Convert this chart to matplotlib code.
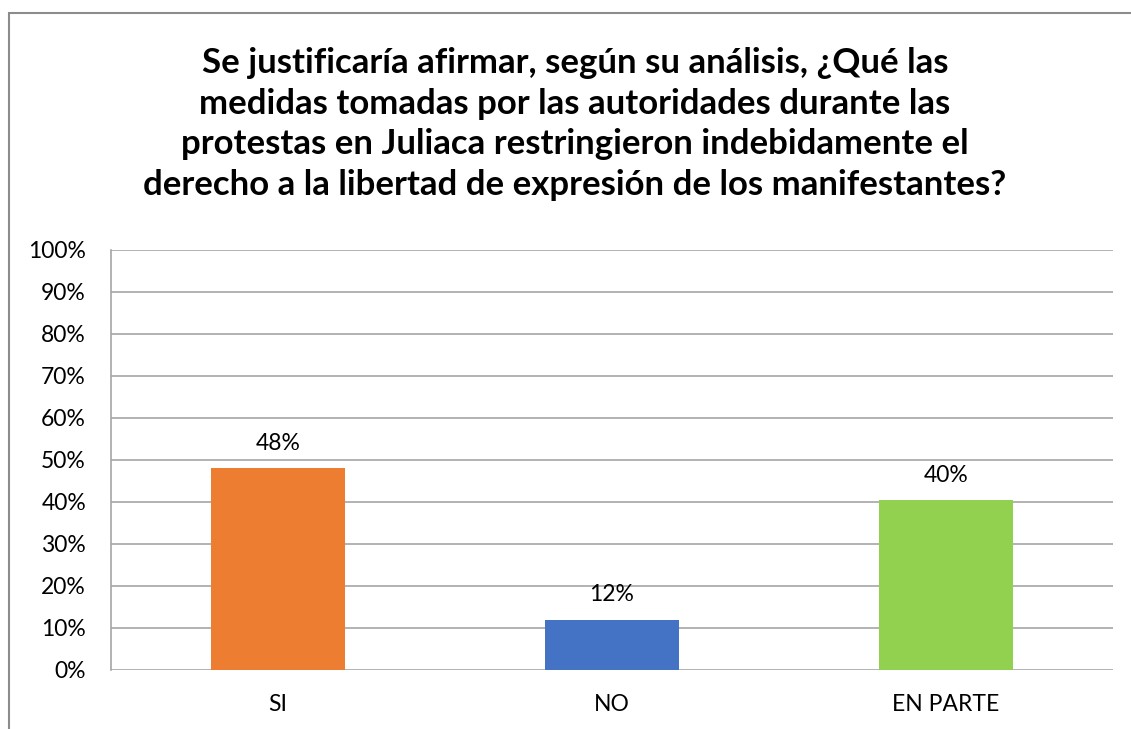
import matplotlib.pyplot as plt
from matplotlib.patches import Rectangle
from matplotlib.ticker import PercentFormatter

# Datos de la encuesta
categorias = ['SI', 'NO', 'EN PARTE']
valores = [0.48, 0.12, 0.404]
colores = ['#ED7D31', '#4472C4', '#92D050']
titulo = ('Se justificaría afirmar, según su análisis, ¿Qué las\n'
          'medidas tomadas por las autoridades durante las\n'
          'protestas en Juliaca restringieron indebidamente el\n'
          'derecho a la libertad de expresión de los manifestantes?')

plt.rcParams['font.family'] = ['Lato', 'DejaVu Sans']

fig = plt.figure(figsize=(11.31, 7.29), dpi=100)
W, H = 1131, 729
ax = fig.add_axes([111 / W, 1 - 670 / H, (1113 - 111) / W, (670 - 249.5) / H])

x = range(len(categorias))
barras = ax.bar(x, valores, width=0.4, color=colores, zorder=3)
for b, v in zip(barras, valores):
    ax.text(b.get_x() + b.get_width() / 2, v + 0.034, f'{round(v * 100):.0f}%',
            ha='center', va='bottom', fontsize=16.5, color='#000000')

ax.set_xlim(-0.5, 2.5)
ax.set_ylim(0, 1)
ax.set_yticks([i / 10 for i in range(11)])
ax.yaxis.set_major_formatter(PercentFormatter(1.0, decimals=0))
ax.set_xticks(list(x))
ax.set_xticklabels(categorias)
ax.tick_params(axis='both', length=0, labelsize=16.5, labelcolor='#000000')
ax.tick_params(axis='y', pad=18)
ax.tick_params(axis='x', pad=17)
ax.grid(axis='y', color='#A6A6A6', linewidth=1.2, zorder=0)
for s in ['top', 'right', 'bottom']:
    ax.spines[s].set_visible(False)
ax.spines['left'].set_color('#A6A6A6')
ax.spines['left'].set_linewidth(1.2)

fig.text(575 / W, 1 - 124 / H, titulo, ha='center', va='center',
         fontsize=25, fontweight='bold', linespacing=1.34)

# borde del gráfico
fig.patches.append(Rectangle((8.5 / W, -0.1), 1.2, 1 - 13 / H + 0.1,
                             transform=fig.transFigure, fill=False,
                             edgecolor='#8C8C8C', linewidth=1.5))

fig.savefig('out.png', dpi=100)
